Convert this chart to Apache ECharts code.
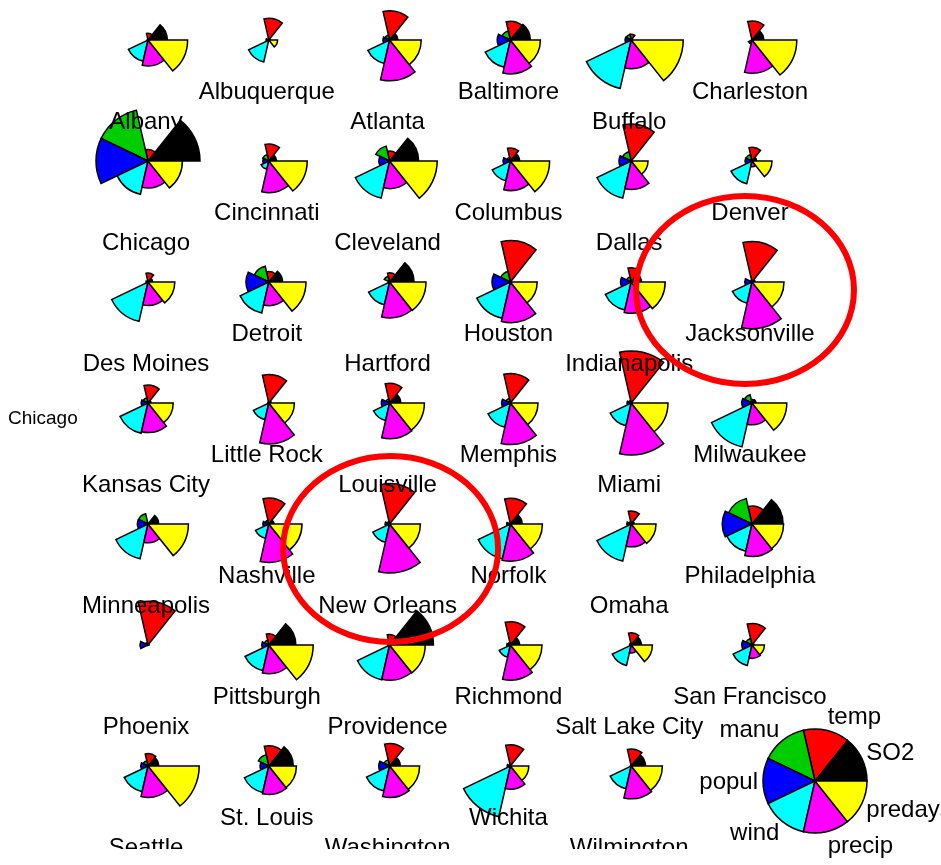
<!DOCTYPE html>
<html><head><meta charset="utf-8">
<script src="https://cdn.jsdelivr.net/npm/echarts@6/dist/echarts.min.js"></script>
<style>html,body{margin:0;padding:0;background:#fff}#c{width:941px;height:865px}</style>
</head><body><div id="c"></div>
<script>
// ---- data (USairpollution) ----
const cities = ['Albany','Albuquerque','Atlanta','Baltimore','Buffalo','Charleston','Chicago','Cincinnati','Cleveland','Columbus','Dallas','Denver','Des Moines','Detroit','Hartford','Houston','Indianapolis','Jacksonville','Kansas City','Little Rock','Louisville','Memphis','Miami','Milwaukee','Minneapolis','Nashville','New Orleans','Norfolk','Omaha','Philadelphia','Phoenix','Pittsburgh','Providence','Richmond','Salt Lake City','San Francisco','Seattle','St. Louis','Washington','Wichita','Wilmington'];
const so2 = [46,11,24,47,11,31,110,23,65,26,9,17,17,35,56,10,28,14,14,13,30,10,10,16,29,18,9,31,14,69,10,61,94,26,28,12,29,56,29,8,36];
const temp = [47.6,56.8,61.5,55.0,47.1,55.2,50.6,54.0,49.7,51.5,66.2,51.9,49.0,49.9,49.1,68.9,52.3,68.4,54.5,61.0,55.6,61.6,75.5,45.7,43.5,59.4,68.3,59.3,51.5,54.6,70.3,50.4,50.0,57.8,51.0,56.7,51.1,55.9,57.3,56.6,54.0];
const manu = [44,46,368,625,391,35,3344,462,1007,266,641,454,104,1064,412,721,361,136,381,91,291,337,207,569,699,275,204,96,181,1692,213,347,343,197,137,453,379,775,434,125,80];
const popul = [116,244,497,905,463,71,3369,453,751,540,844,515,201,1513,158,1233,746,529,507,132,593,624,335,717,744,448,361,308,347,1950,582,520,179,299,176,716,531,622,757,277,80];
const wind = [8.8,8.9,9.1,9.6,12.4,6.5,10.4,7.1,10.9,8.6,10.9,9.0,11.2,10.1,9.0,10.8,9.7,8.8,10.0,8.2,8.3,9.2,9.0,11.8,10.6,7.9,8.4,10.6,10.9,9.6,6.0,9.4,10.6,7.6,8.7,8.7,9.4,9.5,9.3,12.7,9.0];
const precip = [33.36,7.77,48.34,41.31,36.11,40.75,34.44,39.04,34.99,37.01,35.94,12.95,30.85,30.96,43.37,48.19,38.74,54.47,37.00,48.52,43.11,49.10,59.80,29.07,25.94,46.00,56.77,44.68,30.18,39.93,7.05,36.22,42.75,42.59,15.17,20.66,38.79,35.89,38.89,30.58,40.25];
const predays = [135,58,115,111,166,148,122,132,155,134,78,86,103,129,127,103,121,116,99,100,123,105,128,123,137,119,113,116,98,115,36,147,125,115,89,67,164,105,111,82,114];
const varNames = ['SO2','temp','manu','popul','wind','precip','predays'];
const annotationText = 'Chicago';
const highlighted = ['Jacksonville','New Orleans'];

// ---- styles / layout ----
const segColors = ['#000000','#ff0000','#00cd00','#0000ff','#00ffff','#ff00ff','#ffff00'];
const NCOL = 6, X0 = 148, DX = 120.8, Y0 = 40, DY = 121, R = 52;
const KEY_C = [815, 781];
const FONT = '24px "Liberation Sans", Arial, sans-serif';
const ellipseLayout = {
  'Jacksonville': {dx: -7, dy: 8, rx: 109, ry: 94},
  'New Orleans': {dx: 1, dy: 25, rx: 107.5, ry: 93}
};

const columns = [so2, temp, manu, popul, wind, precip, predays];
const scaled = columns.map(col => {
  const mn = Math.min(...col), mx = Math.max(...col);
  return col.map(v => (v - mn) / (mx - mn));
});

const polars = [], angleAxes = [], radiusAxes = [], series = [], graphics = [];
function addStar(cx, cy, vals) {
  const i = polars.length;
  polars.push({center: [cx, cy], radius: R});
  angleAxes.push({polarIndex: i, type: 'category', data: varNames, startAngle: 0, clockwise: false,
    boundaryGap: true, show: false, axisLine: {show: false}, axisTick: {show: false}, axisLabel: {show: false}, splitLine: {show: false}});
  radiusAxes.push({polarIndex: i, type: 'value', min: 0, max: 1, show: false,
    axisLine: {show: false}, axisTick: {show: false}, axisLabel: {show: false}, splitLine: {show: false}});
  series.push({type: 'bar', coordinateSystem: 'polar', polarIndex: i, barCategoryGap: '0%', barGap: '0%',
    silent: true, animation: false,
    itemStyle: {borderColor: '#000', borderWidth: 1.5},
    data: vals.map((v, k) => ({value: v, itemStyle: {color: segColors[k]}}))});
}
function textEl(txt, x, y, align, font, z) {
  return {type: 'text', z: z, silent: true,
    style: {text: txt, x: x, y: y, font: font, fill: '#000',
      textAlign: align, align: align, textVerticalAlign: 'middle', verticalAlign: 'middle'}};
}

cities.forEach((name, i) => {
  const c = i % NCOL, r = Math.floor(i / NCOL);
  const cx = X0 + DX * c, cy = Y0 + DY * r;
  addStar(cx, cy, scaled.map(s => s[i]));
  const ly = cy + (c % 2 === 0 ? 82 : 52);
  graphics.push(textEl(name, cx - 2, ly, 'center', FONT, 10));
  if (highlighted.includes(name)) {
    const e = ellipseLayout[name];
    graphics.push({type: 'ellipse', z: 40, silent: true,
      shape: {cx: cx + e.dx, cy: cy + e.dy, rx: e.rx, ry: e.ry},
      style: {fill: null, stroke: '#ff0000', lineWidth: 6}});
  }
});

// key
addStar(KEY_C[0], KEY_C[1], varNames.map(() => 1));
varNames.forEach((v, k) => {
  const a = (k + 0.5) * 2 * Math.PI / varNames.length;
  const x = KEY_C[0] + 57 * Math.cos(a);
  const y = KEY_C[1] - 66 * Math.sin(a) + 1;
  graphics.push(textEl(v, x, y, Math.cos(a) > 0 ? 'left' : 'right', FONT, 30));
});

// plot-region clipping of city labels
graphics.push({type: 'rect', z: 20, silent: true, shape: {x: 0, y: 0, width: 81, height: 865}, style: {fill: '#fff'}});
graphics.push({type: 'rect', z: 20, silent: true, shape: {x: 0, y: 849, width: 941, height: 16}, style: {fill: '#fff'}});
// side annotation
graphics.push(textEl(annotationText, 8, 419, 'left', '19px "Liberation Sans", Arial, sans-serif', 30));

const chart = echarts.init(document.getElementById('c'), null, {renderer: 'canvas'});
chart.setOption({
  backgroundColor: '#ffffff',
  animation: false,
  polar: polars,
  angleAxis: angleAxes,
  radiusAxis: radiusAxes,
  series: series,
  graphic: {elements: graphics}
});
</script>
</body></html>
